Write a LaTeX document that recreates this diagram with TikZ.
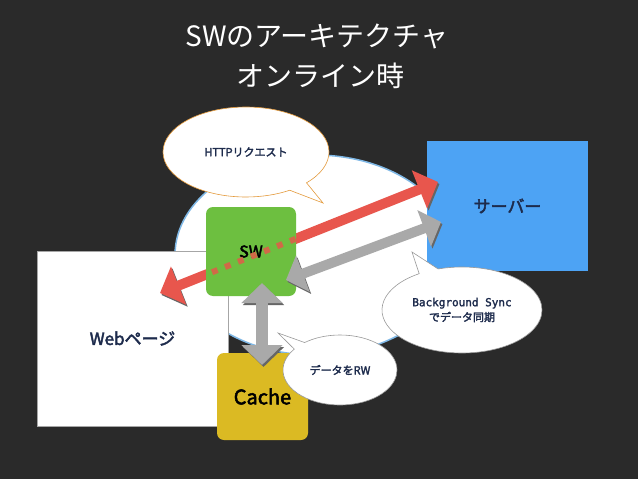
\documentclass[tikz,border=0pt]{standalone}
\usepackage{fontspec}
\newfontfamily\jp[AutoFakeBold=2.5]{Noto Sans CJK JP}
\newfontfamily\jpmono[AutoFakeBold=2]{DejaVu Sans Mono}
\usetikzlibrary{arrows.meta,shapes.geometric,shapes.callouts}
\definecolor{slate}{HTML}{2A2A2A}
\definecolor{srvblue}{HTML}{4DA3F4}
\definecolor{swgreen}{HTML}{6DBF40}
\definecolor{cacheyel}{HTML}{DBBA23}
\definecolor{reqred}{HTML}{E8564D}
\definecolor{syncgray}{HTML}{A9A9A9}
\definecolor{dotbrown}{HTML}{D06A47}
\definecolor{inkblue}{HTML}{1D2B4C}
\definecolor{rimblue}{HTML}{7FB8E6}
\definecolor{balloonorange}{HTML}{E49A3C}
\begin{document}
\begin{tikzpicture}[x=1pt,y=-1pt,
	box/.style={inner sep=0pt,text=inkblue,font=\jp\bfseries\fontsize{17}{17}\selectfont},
	bubble/.style={ellipse callout,fill=white,draw=#1,line width=.6pt,inner sep=0pt,align=center,text=inkblue,font=\jp\bfseries\fontsize{11}{15}\selectfont},
	fat/.style={line width=#1,preaction={draw=black!60,transform canvas={shift={(1.5pt,-2pt)}}}}]
	    \fill[slate](0,0) rectangle (638,479);
	    \useasboundingbox(0,0) rectangle (638,479);
	    \node[white,font=\jp\fontsize{28}{28}\selectfont](title) at (317,36){SWのアーキテクチャ};
	    \node[white,font=\jp\fontsize{28}{28}\selectfont](subtitle) at (320,76){オンライン時};
	    \node[ellipse,fill=white,draw=rimblue,line width=1.5pt,minimum width=280pt,minimum height=200pt](sphere) at (315,255){};
	    \node[box,fill=white,draw=black!35,line width=.5pt,minimum width=191pt,minimum height=175pt](web) at (132.5,338.5){Webページ};
	    \node[box,fill=srvblue,minimum width=161pt,minimum height=130pt](server) at (507.5,206){サーバー};
	    \coordinate(webtip) at (160,293);
	    \coordinate(srvtip) at (438,182);
	    \coordinate(swtip) at (286,280);
	    \coordinate(synctip) at (441,222);
	    \coordinate(swbot) at (262,283);
	    \coordinate(cachetop) at (262,365);
	    \draw[reqred,fat=10pt,{Triangle[length=20pt,width=40pt]}-{Triangle[length=20pt,width=40pt]}](webtip)--(srvtip);
	    \node[box,fill=swgreen,rounded corners=7pt,minimum width=90pt,minimum height=89pt,text=black,font=\jp\bfseries\fontsize{16}{16}\selectfont](sw) at (251,251.5){SW};
	    \begin{scope}
	    \clip[rounded corners=7pt](sw.south west) rectangle (sw.north east);
	    \draw[dotbrown,line width=6pt,dash pattern=on 6pt off 8pt](webtip)--(srvtip);
	    \end{scope}
	    \draw[syncgray,fat=10pt,{Triangle[length=18pt,width=38pt]}-{Triangle[length=18pt,width=38pt]}](swtip)--(synctip);
	    \node[box,fill=cacheyel,rounded corners=7pt,minimum width=91pt,minimum height=87pt,text=black,font=\jp\bfseries\fontsize{20}{20}\selectfont](cache) at (262.5,396.5){Cache};
	    \draw[syncgray,fat=12pt,{Triangle[length=20pt,width=40pt]}-{Triangle[length=20pt,width=40pt]}](swbot)--(cachetop);
	    \coordinate(httpptr) at (323,203);
	    \coordinate(syncptr) at (412,252);
	    \coordinate(rwptr) at (278,333);
	    \node[bubble=balloonorange,minimum width=166pt,minimum height=90pt,callout absolute pointer={(httpptr)}](http) at (246,152){HTTPリクエスト};
	    \node[bubble=black!40,minimum width=160pt,minimum height=86pt,callout absolute pointer={(syncptr)}](sync) at (462,310){{\jpmono Background Sync}\\でデータ同期};
	    \node[bubble=black!40,minimum width=114pt,minimum height=70pt,callout absolute pointer={(rwptr)}](rw) at (340,370){データをRW};
	\end{tikzpicture}
\end{document}
